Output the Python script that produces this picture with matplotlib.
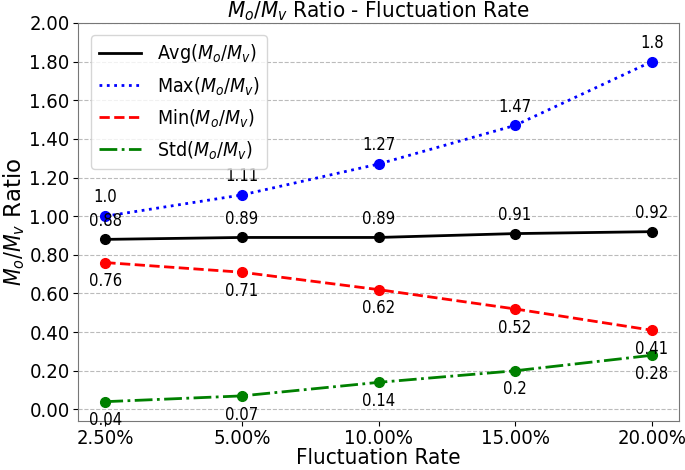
import matplotlib
matplotlib.use("Agg")
import matplotlib.pyplot as plt
from matplotlib.lines import Line2D

categories = ["2.50%", "5.00%", "10.00%", "15.00%", "20.00%"]
avg_vals = [0.88, 0.89, 0.89, 0.91, 0.92]
max_vals = [1.0, 1.11, 1.27, 1.47, 1.8]
min_vals = [0.76, 0.71, 0.62, 0.52, 0.41]
std_vals = [0.04, 0.07, 0.14, 0.2, 0.28]
yticks = [0.0, 0.2, 0.4, 0.6, 0.8, 1.0, 1.2, 1.4, 1.6, 1.8, 2.0]

plt.rcParams['font.family'] = ['DejaVu Sans']
plt.rcParams['font.stretch'] = 'condensed'
plt.rcParams['mathtext.fontset'] = 'dejavusans'

fig = plt.figure(figsize=(6.85, 4.7), dpi=100)
ax = fig.add_axes([78/685, 1-421/470, 601/685, 398/470])
x = list(range(len(categories)))

series = [
    (avg_vals, '-', 'black', r'Avg($M_o/M_v$)'),
    (max_vals, ':', 'blue', r'Max($M_o/M_v$)'),
    (min_vals, '--', 'red', r'Min($M_o/M_v$)'),
    (std_vals, '-.', 'green', r'Std($M_o/M_v$)'),
]
handles = []
for vals, ls, c, lab in series:
    ax.plot(x, vals, linestyle=ls, color=c, lw=2, marker='o', ms=7)
    handles.append(Line2D([], [], linestyle=ls, color=c, lw=2, label=lab))

fs = 12
for vals, above in [(avg_vals, True), (max_vals, True), (min_vals, False), (std_vals, False)]:
    for xi, v in zip(x, vals):
        if above:
            ax.annotate(f"{v}", (xi, v), xytext=(0, 7), textcoords='offset points',
                        ha='center', va='bottom', fontsize=fs)
        else:
            ax.annotate(f"{v}", (xi, v), xytext=(0, -7), textcoords='offset points',
                        ha='center', va='top', fontsize=fs)

ax.set_xlim(-0.2, 4.2)
ax.set_ylim(-0.06, 2.0)
ax.set_xticks(x)
ax.set_xticklabels(categories)
ax.set_yticks(yticks)
ax.set_yticklabels([f"{t:.2f}" for t in yticks])
ax.tick_params(labelsize=14.5, pad=2.5)
ax.yaxis.grid(True, linestyle='--', color='#bbbbbb', lw=0.8)
ax.set_axisbelow(True)
for s in ax.spines.values():
    s.set_color('#777777')

ax.set_xlabel('Fluctuation Rate', fontsize=16, labelpad=0)
ax.set_ylabel(r'$M_o/M_v$ Ratio', fontsize=16.5, labelpad=2, fontstretch='normal')
ax.set_title(r'$M_o/M_v$ Ratio - Fluctuation Rate', fontsize=16, pad=1)
ax.legend(handles=handles, loc='upper left', fontsize=14, handlelength=2.2,
          bbox_to_anchor=(0.005, 0.995))

fig.savefig('out.png', dpi=100)
